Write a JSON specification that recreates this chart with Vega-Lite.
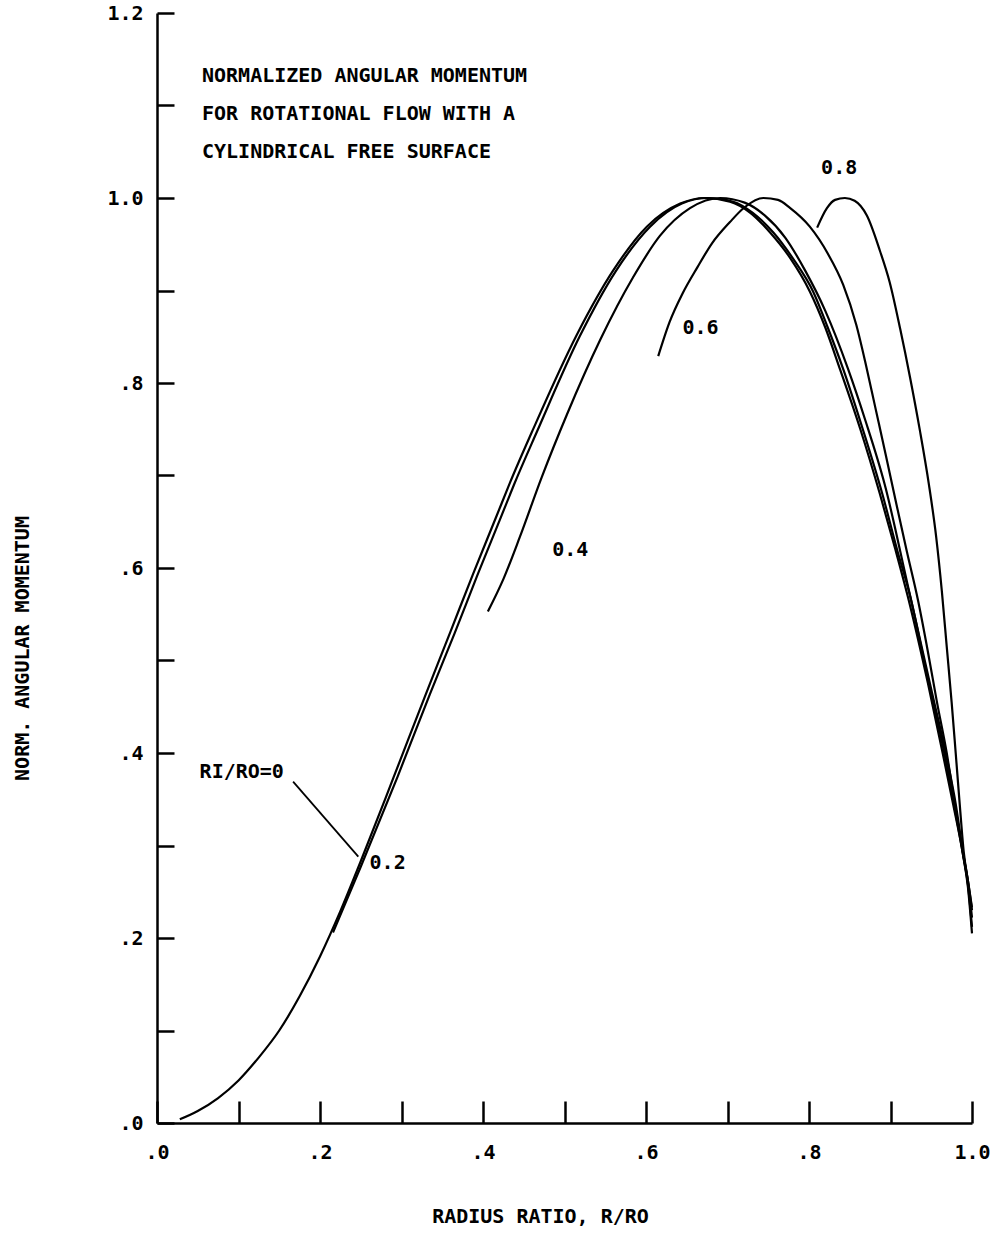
{
  "$schema": "https://vega.github.io/schema/vega-lite/v6.json",
  "width": 815,
  "height": 1110,
  "autosize": "none",
  "padding": {"left": 157, "top": 13, "right": 19, "bottom": 132},
  "background": "white",
  "config": {
    "view": {"stroke": null},
    "font": "DejaVu Sans Mono",
    "axis": {
      "grid": false,
      "domainColor": "black",
      "domainWidth": 2.5,
      "tickColor": "black",
      "tickWidth": 2.5,
      "labelColor": "black",
      "labelFont": "DejaVu Sans Mono",
      "labelFontSize": 20,
      "labelFontWeight": "bold",
      "labelOverlap": false,
      "labelFlush": false,
      "titleColor": "black",
      "titleFont": "DejaVu Sans Mono",
      "titleFontSize": 20,
      "titleFontWeight": "bold"
    }
  },
  "datasets": {
    "curves": [
      {"s": "0", "r": 0.028, "v": 0.004},
      {"s": "0", "r": 0.050, "v": 0.013},
      {"s": "0", "r": 0.075, "v": 0.027},
      {"s": "0", "r": 0.100, "v": 0.046},
      {"s": "0", "r": 0.125, "v": 0.071},
      {"s": "0", "r": 0.150, "v": 0.100},
      {"s": "0", "r": 0.175, "v": 0.137},
      {"s": "0", "r": 0.200, "v": 0.180},
      {"s": "0", "r": 0.225, "v": 0.229},
      {"s": "0", "r": 0.250, "v": 0.283},
      {"s": "0", "r": 0.290, "v": 0.373},
      {"s": "0", "r": 0.330, "v": 0.464},
      {"s": "0", "r": 0.360, "v": 0.531},
      {"s": "0", "r": 0.388, "v": 0.594},
      {"s": "0", "r": 0.417, "v": 0.657},
      {"s": "0", "r": 0.433, "v": 0.692},
      {"s": "0", "r": 0.461, "v": 0.749},
      {"s": "0", "r": 0.515, "v": 0.852},
      {"s": "0", "r": 0.560, "v": 0.922},
      {"s": "0", "r": 0.601, "v": 0.969},
      {"s": "0", "r": 0.642, "v": 0.994},
      {"s": "0", "r": 0.672, "v": 1.0},
      {"s": "0", "r": 0.703, "v": 0.996},
      {"s": "0", "r": 0.728, "v": 0.984},
      {"s": "0", "r": 0.752, "v": 0.963},
      {"s": "0", "r": 0.777, "v": 0.935},
      {"s": "0", "r": 0.801, "v": 0.899},
      {"s": "0", "r": 0.820, "v": 0.860},
      {"s": "0", "r": 0.838, "v": 0.815},
      {"s": "0", "r": 0.863, "v": 0.750},
      {"s": "0", "r": 0.887, "v": 0.680},
      {"s": "0", "r": 0.906, "v": 0.620},
      {"s": "0", "r": 0.921, "v": 0.570},
      {"s": "0", "r": 0.946, "v": 0.475},
      {"s": "0", "r": 0.964, "v": 0.400},
      {"s": "0", "r": 0.977, "v": 0.344},
      {"s": "0", "r": 0.989, "v": 0.290},
      {"s": "0", "r": 0.995, "v": 0.255},
      {"s": "0", "r": 1.0, "v": 0.205},
      {"s": "0.2", "r": 0.216, "v": 0.206},
      {"s": "0.2", "r": 0.250, "v": 0.277},
      {"s": "0.2", "r": 0.295, "v": 0.374},
      {"s": "0.2", "r": 0.335, "v": 0.464},
      {"s": "0.2", "r": 0.365, "v": 0.529},
      {"s": "0.2", "r": 0.393, "v": 0.592},
      {"s": "0.2", "r": 0.422, "v": 0.655},
      {"s": "0.2", "r": 0.438, "v": 0.690},
      {"s": "0.2", "r": 0.466, "v": 0.747},
      {"s": "0.2", "r": 0.519, "v": 0.851},
      {"s": "0.2", "r": 0.563, "v": 0.921},
      {"s": "0.2", "r": 0.605, "v": 0.969},
      {"s": "0.2", "r": 0.644, "v": 0.994},
      {"s": "0.2", "r": 0.676, "v": 1.0},
      {"s": "0.2", "r": 0.707, "v": 0.996},
      {"s": "0.2", "r": 0.731, "v": 0.984},
      {"s": "0.2", "r": 0.756, "v": 0.963},
      {"s": "0.2", "r": 0.780, "v": 0.935},
      {"s": "0.2", "r": 0.805, "v": 0.899},
      {"s": "0.2", "r": 0.823, "v": 0.860},
      {"s": "0.2", "r": 0.842, "v": 0.815},
      {"s": "0.2", "r": 0.866, "v": 0.750},
      {"s": "0.2", "r": 0.890, "v": 0.680},
      {"s": "0.2", "r": 0.908, "v": 0.620},
      {"s": "0.2", "r": 0.924, "v": 0.570},
      {"s": "0.2", "r": 0.947, "v": 0.475},
      {"s": "0.2", "r": 0.966, "v": 0.400},
      {"s": "0.2", "r": 0.978, "v": 0.344},
      {"s": "0.2", "r": 0.989, "v": 0.290},
      {"s": "0.2", "r": 0.995, "v": 0.258},
      {"s": "0.2", "r": 1.0, "v": 0.212},
      {"s": "0.4", "r": 0.406, "v": 0.553},
      {"s": "0.4", "r": 0.425, "v": 0.588},
      {"s": "0.4", "r": 0.445, "v": 0.633},
      {"s": "0.4", "r": 0.472, "v": 0.698},
      {"s": "0.4", "r": 0.503, "v": 0.766},
      {"s": "0.4", "r": 0.544, "v": 0.847},
      {"s": "0.4", "r": 0.584, "v": 0.914},
      {"s": "0.4", "r": 0.617, "v": 0.959},
      {"s": "0.4", "r": 0.654, "v": 0.989},
      {"s": "0.4", "r": 0.691, "v": 1.0},
      {"s": "0.4", "r": 0.721, "v": 0.995},
      {"s": "0.4", "r": 0.746, "v": 0.981},
      {"s": "0.4", "r": 0.771, "v": 0.957},
      {"s": "0.4", "r": 0.795, "v": 0.922},
      {"s": "0.4", "r": 0.820, "v": 0.878},
      {"s": "0.4", "r": 0.848, "v": 0.815},
      {"s": "0.4", "r": 0.869, "v": 0.760},
      {"s": "0.4", "r": 0.893, "v": 0.690},
      {"s": "0.4", "r": 0.921, "v": 0.582},
      {"s": "0.4", "r": 0.951, "v": 0.465},
      {"s": "0.4", "r": 0.969, "v": 0.395},
      {"s": "0.4", "r": 0.980, "v": 0.345},
      {"s": "0.4", "r": 0.989, "v": 0.292},
      {"s": "0.4", "r": 0.995, "v": 0.260},
      {"s": "0.4", "r": 1.0, "v": 0.222},
      {"s": "0.6", "r": 0.615, "v": 0.829},
      {"s": "0.6", "r": 0.629, "v": 0.866},
      {"s": "0.6", "r": 0.645, "v": 0.897},
      {"s": "0.6", "r": 0.663, "v": 0.925},
      {"s": "0.6", "r": 0.681, "v": 0.951},
      {"s": "0.6", "r": 0.703, "v": 0.974},
      {"s": "0.6", "r": 0.721, "v": 0.990},
      {"s": "0.6", "r": 0.744, "v": 1.0},
      {"s": "0.6", "r": 0.762, "v": 0.998},
      {"s": "0.6", "r": 0.777, "v": 0.989},
      {"s": "0.6", "r": 0.801, "v": 0.969},
      {"s": "0.6", "r": 0.823, "v": 0.940},
      {"s": "0.6", "r": 0.842, "v": 0.906},
      {"s": "0.6", "r": 0.858, "v": 0.863},
      {"s": "0.6", "r": 0.870, "v": 0.819},
      {"s": "0.6", "r": 0.881, "v": 0.775},
      {"s": "0.6", "r": 0.894, "v": 0.723},
      {"s": "0.6", "r": 0.907, "v": 0.670},
      {"s": "0.6", "r": 0.920, "v": 0.618},
      {"s": "0.6", "r": 0.934, "v": 0.564},
      {"s": "0.6", "r": 0.946, "v": 0.509},
      {"s": "0.6", "r": 0.957, "v": 0.455},
      {"s": "0.6", "r": 0.969, "v": 0.400},
      {"s": "0.6", "r": 0.979, "v": 0.344},
      {"s": "0.6", "r": 0.989, "v": 0.292},
      {"s": "0.6", "r": 0.995, "v": 0.262},
      {"s": "0.6", "r": 1.0, "v": 0.230},
      {"s": "0.8", "r": 0.810, "v": 0.968},
      {"s": "0.8", "r": 0.822, "v": 0.989},
      {"s": "0.8", "r": 0.832, "v": 0.998},
      {"s": "0.8", "r": 0.844, "v": 1.0},
      {"s": "0.8", "r": 0.856, "v": 0.997},
      {"s": "0.8", "r": 0.871, "v": 0.981},
      {"s": "0.8", "r": 0.887, "v": 0.943},
      {"s": "0.8", "r": 0.899, "v": 0.909},
      {"s": "0.8", "r": 0.912, "v": 0.858},
      {"s": "0.8", "r": 0.924, "v": 0.806},
      {"s": "0.8", "r": 0.936, "v": 0.749},
      {"s": "0.8", "r": 0.947, "v": 0.691},
      {"s": "0.8", "r": 0.956, "v": 0.634},
      {"s": "0.8", "r": 0.963, "v": 0.575},
      {"s": "0.8", "r": 0.969, "v": 0.515},
      {"s": "0.8", "r": 0.975, "v": 0.455},
      {"s": "0.8", "r": 0.980, "v": 0.400},
      {"s": "0.8", "r": 0.985, "v": 0.344},
      {"s": "0.8", "r": 0.990, "v": 0.292},
      {"s": "0.8", "r": 0.995, "v": 0.262},
      {"s": "0.8", "r": 1.0, "v": 0.233}
    ],
    "leader": [
      {"r": 0.167, "v": 0.369},
      {"r": 0.247, "v": 0.288}
    ],
    "titleLines": [
      {"t": "NORMALIZED ANGULAR MOMENTUM", "r": 0.0552, "v": 1.132},
      {"t": "FOR ROTATIONAL FLOW WITH A", "r": 0.0552, "v": 1.091},
      {"t": "CYLINDRICAL FREE SURFACE", "r": 0.0552, "v": 1.050}
    ],
    "curveLabels": [
      {"t": "0.8", "r": 0.837, "v": 1.032},
      {"t": "0.6", "r": 0.667, "v": 0.859},
      {"t": "0.4", "r": 0.507, "v": 0.619},
      {"t": "0.2", "r": 0.283, "v": 0.281},
      {"t": "RI/RO=0", "r": 0.104, "v": 0.379}
    ]
  },
  "layer": [
    {
      "data": {"name": "curves"},
      "mark": {"type": "line", "color": "black", "strokeWidth": 2.2, "interpolate": "monotone"},
      "encoding": {
        "x": {
          "field": "r",
          "type": "quantitative",
          "scale": {"domain": [0, 1], "nice": false, "zero": false},
          "axis": {
            "values": [0, 0.1, 0.2, 0.3, 0.4, 0.5, 0.6, 0.7, 0.8, 0.9, 1.0],
            "labelExpr": "round(datum.value*10)%2==1 ? '' : (datum.value>=1 ? format(datum.value,'.1f') : replace(format(datum.value,'.1f'),'0.','.'))",
            "tickSize": -22,
            "labelPadding": 41,
            "title": "RADIUS RATIO, R/RO",
            "titleX": 383,
            "titleY": 93,
            "titleAlign": "center",
            "titleBaseline": "middle"
          }
        },
        "y": {
          "field": "v",
          "type": "quantitative",
          "scale": {"domain": [0, 1.2], "nice": false, "zero": false},
          "axis": {
            "values": [0, 0.1, 0.2, 0.3, 0.4, 0.5, 0.6, 0.7, 0.8, 0.9, 1.0, 1.1, 1.2],
            "labelExpr": "round(datum.value*10)%2==1 ? '' : (datum.value>=1 ? format(datum.value,'.1f') : replace(format(datum.value,'.1f'),'0.','.'))",
            "tickSize": -17,
            "labelPadding": 31,
            "title": "NORM. ANGULAR MOMENTUM",
            "titleX": -135,
            "titleY": 635,
            "titleAngle": -90,
            "titleAlign": "center",
            "titleBaseline": "middle"
          }
        },
        "detail": {"field": "s", "type": "nominal"}
      }
    },
    {
      "data": {"name": "leader"},
      "mark": {"type": "line", "color": "black", "strokeWidth": 1.8},
      "encoding": {
        "x": {"field": "r", "type": "quantitative"},
        "y": {"field": "v", "type": "quantitative"}
      }
    },
    {
      "data": {"name": "titleLines"},
      "mark": {"type": "text", "align": "left", "baseline": "middle", "font": "DejaVu Sans Mono", "fontSize": 20, "fontWeight": "bold", "color": "black"},
      "encoding": {
        "x": {"field": "r", "type": "quantitative"},
        "y": {"field": "v", "type": "quantitative"},
        "text": {"field": "t"}
      }
    },
    {
      "data": {"name": "curveLabels"},
      "mark": {"type": "text", "align": "center", "baseline": "middle", "font": "DejaVu Sans Mono", "fontSize": 20, "fontWeight": "bold", "color": "black"},
      "encoding": {
        "x": {"field": "r", "type": "quantitative"},
        "y": {"field": "v", "type": "quantitative"},
        "text": {"field": "t"}
      }
    }
  ]
}
